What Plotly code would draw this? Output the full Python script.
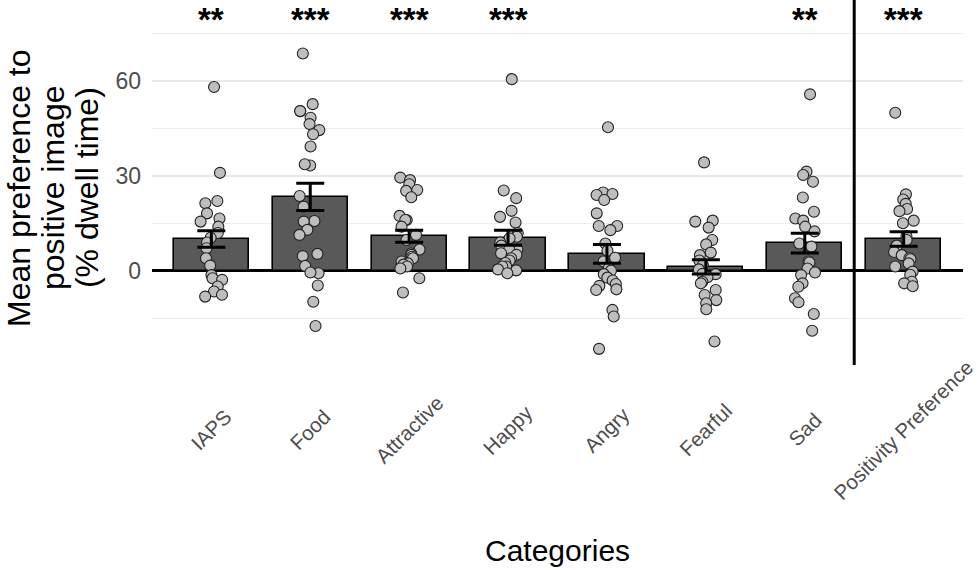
import numpy as np
import plotly.graph_objects as go

categories = ["IAPS", "Food", "Attractive", "Happy", "Angry", "Fearful", "Sad", "Positivity Preference"]
means = [10.1, 23.4, 11.0, 10.5, 5.4, 1.3, 8.8, 10.1]
se = [2.6, 4.3, 1.9, 2.35, 2.95, 2.25, 3.15, 2.3]
stars = ["**", "***", "***", "***", "", "", "**", "***"]

iaps = [58.1, 31.0, 22.1, 21.4, 18.2, 16.6, 15.6, 14.0, 12.0, 10.5, 9.0, 7.2, 4.0, 1.7, -1.3, -2.3, -2.8, -4.9, -6.5, -7.5, -8.1]
food = [68.7, 52.7, 50.5, 50.5, 48.4, 46.4, 44.5, 43.2, 39.3, 33.3, 33.7, 23.7, 20.3, 15.8, 15.6, 13.0, 11.4, 5.4, 4.7, 1.6, -0.7, -0.5, -4.6, -9.7, -17.4]
attractive = [29.5, 28.7, 27.4, 25.6, 25.3, 23.3, 17.4, 16.1, 16.1, 14.0, 11.4, 9.8, 6.8, 5.5, 5.1, 4.5, 4.0, 3.0, 2.4, 2.0, 1.4, 0.8, -2.3, -6.8]
happy = [60.6, 25.4, 23.0, 19.0, 17.1, 15.3, 12.0, 10.8, 10.3, 9.0, 8.0, 6.8, 6.8, 5.6, 5.1, 4.0, 3.3, 2.5, 1.4, 1.4, 0.5, 0.2, -0.7]
angry = [45.4, 24.8, 24.3, 24.0, 22.4, 18.2, 14.2, 14.2, 12.9, 8.7, 6.4, 4.2, 3.0, 1.0, 0.1, -1.0, -2.1, -3.0, -4.1, -4.7, -5.8, -6.0, -12.3, -14.4, -24.6]
fearful = [34.3, 15.9, 15.6, 13.7, 9.8, 8.4, 5.8, 5.0, 3.3, 1.9, 0.5, -0.9, -1.0, -2.0, -3.4, -3.9, -6.0, -7.6, -9.2, -10.2, -12.1, -22.3]
sad = [55.8, 31.4, 30.3, 28.2, 23.2, 18.7, 16.6, 15.9, 14.0, 12.5, 8.7, 7.7, 3.0, 2.7, 0.8, -0.5, -1.3, -3.9, -5.0, -8.6, -9.9, -13.6, -18.9]
positivity = [50.0, 24.2, 22.6, 21.2, 19.6, 18.9, 15.9, 15.1, 11.0, 9.8, 8.0, 6.0, 5.0, 4.0, 3.7, 2.4, 1.4, -0.2, -1.2, -3.4, -3.9, -4.8]

points = [iaps, food, attractive, happy, angry, fearful, sad, positivity]

FONT = "Liberation Sans, Arial, sans-serif"
idx = list(range(len(categories)))

# horizontal jitter only (positions, not values)
rng = np.random.default_rng(7)
px, py = [], []
for i, vals in enumerate(points):
    jit = rng.uniform(-0.11, 0.11, len(vals))
    px.extend((i + jit).tolist())
    py.extend(vals)

fig = go.Figure()
fig.add_trace(go.Bar(
    x=idx, y=means, width=0.76,
    marker=dict(color="#595959", line=dict(color="black", width=1.6)),
    showlegend=False, hoverinfo="skip"))
fig.add_trace(go.Scatter(
    x=px, y=py, mode="markers",
    marker=dict(size=11, color="#BEBEBE", line=dict(color="#222222", width=1.1)),
    showlegend=False))
fig.add_trace(go.Scatter(
    x=idx, y=means, mode="markers",
    marker=dict(size=1, opacity=0),
    error_y=dict(type="data", array=se, visible=True, color="black", thickness=3, width=14),
    showlegend=False, hoverinfo="skip"))

annotations = []
for i, (c, s) in enumerate(zip(categories, stars)):
    annotations.append(dict(x=i, y=-0.178, xref="x", yref="paper", text=c, textangle=-45,
                            showarrow=False, xanchor="center", yanchor="middle",
                            font=dict(family=FONT, size=20.5, color="#4D4D4D")))
    if s:
        annotations.append(dict(x=i, y=1, xref="x", yref="paper", text="<b>" + s + "</b>",
                                showarrow=False, xanchor="center", yanchor="top", yshift=1,
                                font=dict(family=FONT, size=33, color="black")))

for txt, xp in [("Mean preference to", -0.164), ("positive image", -0.122), ("(% dwell time)", -0.080)]:
    annotations.append(dict(x=xp, y=0.485, xref="paper", yref="paper", text=txt, textangle=-90,
                            showarrow=False, xanchor="center", yanchor="middle",
                            font=dict(family=FONT, size=32, color="black")))

annotations.append(dict(x=0.5, y=-0.508, xref="paper", yref="paper", text="Categories",
                        showarrow=False, xanchor="center", yanchor="middle",
                        font=dict(family=FONT, size=30, color="black")))

fig.update_layout(
    width=980, height=570,
    margin=dict(l=152, r=17, t=0, b=205),
    paper_bgcolor="white", plot_bgcolor="white",
    font=dict(family=FONT),
    bargap=0,
    annotations=annotations,
    shapes=[dict(type="line", xref="x", yref="paper", x0=6.5, x1=6.5, y0=0, y1=1,
                 line=dict(color="black", width=3), layer="above")],
    xaxis=dict(range=[-0.6, 7.6], showgrid=False, zeroline=False, showticklabels=False,
               ticks="", showline=False),
    yaxis=dict(range=[-29.7, 85.6], tickvals=[0, 30, 60], ticktext=["0", "30", "60"],
               showgrid=True, gridcolor="#E8E8E8", gridwidth=1.6,
               minor=dict(tickvals=[-15, 15, 45, 75], showgrid=True, gridcolor="#EDEDED", gridwidth=1),
               zeroline=True, zerolinecolor="black", zerolinewidth=3,
               ticks="", ticklabelstandoff=10, showline=False,
               tickfont=dict(family=FONT, size=23, color="#4D4D4D")),
)

fig.write_html("out.html", config={"displayModeBar": False},
               post_script="document.body.style.margin='0';document.body.style.padding='0';")
